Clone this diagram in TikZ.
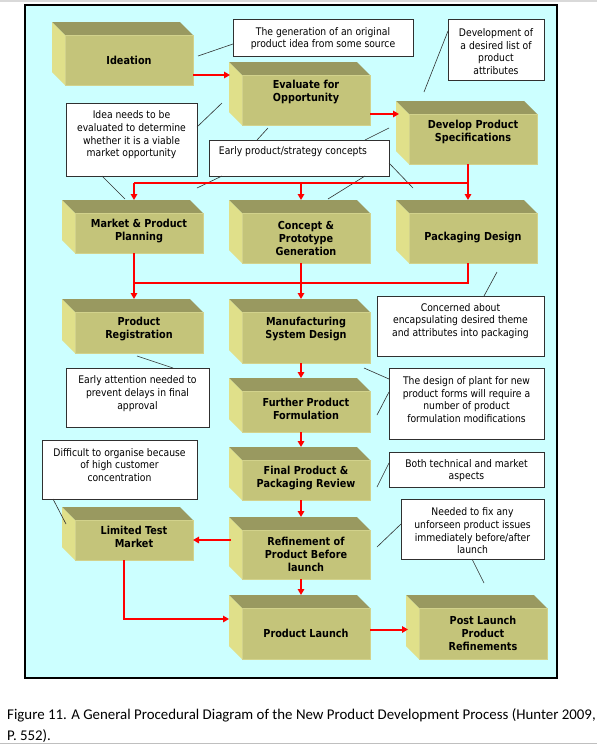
\documentclass[tikz,border=0pt]{standalone}
\usepackage{fontspec}
\usetikzlibrary{arrows.meta}
\newfontfamily\boxfont[FakeStretch=0.88]{DejaVu Sans}
\newfontfamily\callfont[FakeStretch=0.88]{DejaVu Sans}
\newfontfamily\capfont{Carlito}
\definecolor{bgc}{HTML}{CCFFFF}
\definecolor{frontc}{HTML}{C4C47A}
\definecolor{topc}{HTML}{999960}
\definecolor{leftc}{HTML}{E0E08A}
\definecolor{edgec}{HTML}{D2D28C}
\definecolor{arrc}{HTML}{FF0000}
\definecolor{leadc}{HTML}{303030}
\tikzset{
  face/.style={fill=frontc, draw=edgec, line width=0.6pt, inner sep=0pt, outer sep=0pt},
  lbl/.style={font=\boxfont\bfseries\fontsize{11}{13}\selectfont, align=center, inner sep=0pt, text=black},
  cbox/.style={fill=white, draw=leadc, line width=0.9pt, inner sep=0pt, outer sep=0pt},
  ctext/.style={font=\callfont\fontsize{10.5}{12.7}\selectfont, align=center, inner sep=0pt, text=black},
  flow/.style={draw=arrc, line width=2pt},
  arr/.style={draw=arrc, line width=2pt, -{Triangle[length=6pt,width=6.5pt]}},
  lead/.style={draw=leadc, line width=0.6pt},
  captext/.style={font=\capfont\fontsize{14.88}{22}\selectfont, inner sep=0pt, text=black}
}
% 3D box: name, x1, y1, x2, y2 (front face), text y, text
\newcommand\pbx[7]{%
  \fill[topc] (#2-13,#3-13) -- (#4-13,#3-13) -- (#4,#3) -- (#2,#3) -- cycle;
  \fill[leftc] (#2-13,#3-13) -- (#2,#3) -- (#2,#5) -- (#2-13,#5-13) -- cycle;
  \node[face, minimum width={#4-#2}, minimum height={#5-#3}] (#1) at ({(#2+#4)/2},{(#3+#5)/2}) {};
  \node[lbl] (#1-t) at ({(#2+#4)/2},#6) {#7};
  \coordinate (#1-top) at ({(#2+#4)/2-5},#3-13);
  \coordinate (#1-bot) at ({(#2+#4)/2-5},#5);
}
% callout: name, x1, y1, x2, y2
\newcommand\cbx[5]{%
  \node[cbox, minimum width={#4-#2}, minimum height={#5-#3}] (#1) at ({(#2+#4)/2},{(#3+#5)/2}) {};
}
\begin{document}
\begin{tikzpicture}[x=1pt,y=-1pt]
\useasboundingbox (0,0) rectangle (597,745);
\fill[black!15] (0,0) rectangle (597,1.5);
\draw[black!25, line width=1pt] (0,743.5) -- (597,743.5);
\node[draw=black, line width=2.6pt, fill=bgc, minimum width=532pt, minimum height=673pt, inner sep=0pt] (frame) at (291,341.5) {};

% boxes
\pbx{ide}{65}{35}{193}{85}{60}{Ideation}
\pbx{eva}{242}{75}{370}{125}{92.5}{Evaluate for\\Opportunity}
\pbx{dev}{409}{114}{537}{164}{132}{Develop Product\\Specifications}
\pbx{mkt}{75}{213}{203}{253}{231.5}{Market \& Product\\Planning}
\pbx{con}{242}{213}{370}{263}{238}{Concept \&\\Prototype\\Generation}
\pbx{pkg}{409}{213}{537}{263}{238}{Packaging Design}
\pbx{reg}{75}{312}{203}{353}{329.5}{Product\\Registration}
\pbx{man}{242}{312}{370}{363}{329.5}{Manufacturing\\System Design}
\pbx{fur}{242}{391}{370}{432}{408.5}{Further Product\\Formulation}
\pbx{fin}{242}{460}{370}{500}{478}{Final Product \&\\Packaging Review}
\pbx{ref}{242}{530}{370}{579}{554}{Refinement of\\Product Before\\launch}
\pbx{ltm}{75}{520}{193}{560}{537}{Limited Test\\Market}
\pbx{lau}{242}{608}{370}{659}{633.5}{Product Launch}
\pbx{pst}{419}{608}{547}{659}{633}{Post Launch\\Product\\Refinements}

% callouts
\cbx{c1}{233}{19}{413}{56}
\node[ctext] (c1t) at (323,38.5) {The generation of an original\\product idea from some source};
\cbx{c2}{448}{19}{544}{80}
\node[ctext] (c2t) at (496,51.5) {Development of\\a desired list of\\product\\attributes};
\cbx{c3}{66}{103}{197}{176}
\node[ctext] (c3t) at (131.5,135) {Idea needs to be\\evaluated to determine\\whether it is a viable\\market opportunity};
\cbx{c4}{209}{140}{389}{176}
\node[ctext] (c4t) at (293,152) {Early product/strategy concepts};
\cbx{c5}{377}{296}{544}{356}
\node[ctext] (c5t) at (460.5,321) {Concerned about\\encapsulating desired theme\\and attributes into packaging};
\cbx{c6}{66}{368}{209}{427}
\node[ctext] (c6t) at (137.5,393.5) {Early attention needed to\\prevent delays in final\\approval};
\cbx{c7}{389}{368}{544}{439}
\node[ctext] (c7t) at (466.5,399.5) {The design of plant for new\\product forms will require a\\number of product\\formulation modifications};
\cbx{c8}{389}{452}{544}{487}
\node[ctext] (c8t) at (466.5,470.5) {Both technical and market\\aspects};
\cbx{c9}{401}{499}{544}{559}
\node[ctext] (c9t) at (472.5,531) {Needed to fix any\\unforseen product issues\\immediately before/after\\launch};
\cbx{c10}{42}{440}{197}{499}
\node[ctext] (c10t) at (119.5,465) {Difficult to organise because\\of high customer\\concentration};

% leader end points
\coordinate (l1) at (198,56);
\coordinate (l2) at (424,92);
\coordinate (l3) at (222,103);
\coordinate (l4) at (125,199);
\coordinate (l5) at (268,128);
\coordinate (l6) at (389,128);
\coordinate (l7) at (197,188);
\coordinate (l8) at (328,199);
\coordinate (l9) at (413,188);
\coordinate (l10) at (497,272);
\coordinate (l11) at (137,356);
\coordinate (l12) at (364,368);
\coordinate (l13) at (377,415);
\coordinate (l14) at (377,487);
\coordinate (l15) at (377,547);
\coordinate (l16) at (484,583);
\coordinate (l17) at (66,524);

\draw[lead] (c1.west |- 0,44) -- (l1);
\draw[lead] (c2.west |- 0,31) -- (l2);
\draw[lead] (c3.east |- 0,127) -- (l3);
\draw[lead] (c3.south -| 102,0) -- (l4);
\draw[lead] (c4.north -| 257,0) -- (l5);
\draw[lead] (c4.north -| 365,0) -- (l6);
\draw[lead] (c4.south -| 222,0) -- (l7);
\draw[lead] (c4.south -| 365,0) -- (l8);
\draw[lead] (c4.east |- 0,163) -- (l9);
\draw[lead] (c5.north -| 484,0) -- (l10);
\draw[lead] (c6.north -| 173,0) -- (l11);
\draw[lead] (c7.west |- 0,379) -- (l12);
\draw[lead] (c7.west |- 0,392) -- (l13);
\draw[lead] (c8.west |- 0,463) -- (l14);
\draw[lead] (c9.west |- 0,524) -- (l15);
\draw[lead] (c9.south -| 472,0) -- (l16);
\draw[lead] (c10.south -| 53,0) -- (l17);

% flow connectors
\coordinate (j1) at (0,183);
\coordinate (j2) at (0,283);
\draw[arr] (ide.east |- eva.north) -- ([xshift=-12pt]eva.north west);
\draw[arr] (eva.east |- dev.north) -- ([xshift=-10pt]dev.north west);
\draw[arr] (dev-bot) -- (pkg-top);
\draw[flow] (mkt-top |- j1) -- (dev-bot |- j1);
\draw[arr] (mkt-top |- j1) -- (mkt-top);
\draw[arr] (con-top |- j1) -- (con-top);
\draw[arr] (mkt-bot) -- (reg-top);
\draw[arr] (con-bot) -- (man-top);
\draw[flow] (pkg-bot) -- (pkg-bot |- j2) -- (mkt-bot |- j2);
\draw[arr] (man-bot) -- (fur-top);
\draw[arr] (fur-bot) -- (fin-top);
\draw[arr] (fin-bot) -- (ref-top);
\draw[arr] (ref-bot) -- (lau-top);
\draw[arr] ([xshift=-11pt]ref.west |- ltm.east) -- (ltm.east);
\draw[arr] ([xshift=-10pt]ltm.south) |- ([xshift=-13pt,yshift=-11pt]lau.north west);
\draw[arr] ([yshift=4pt]lau.east) -- ([xshift=-11pt,yshift=4pt]pst.west);

% caption
\node[captext, anchor=base west] (cap1) at (7,719) {Figure 11. A General Procedural Diagram of the New Product Development Process (Hunter 2009,};
\node[captext, anchor=base west] (cap2) at (7,740) {P. 552).};
\end{tikzpicture}
\end{document}
